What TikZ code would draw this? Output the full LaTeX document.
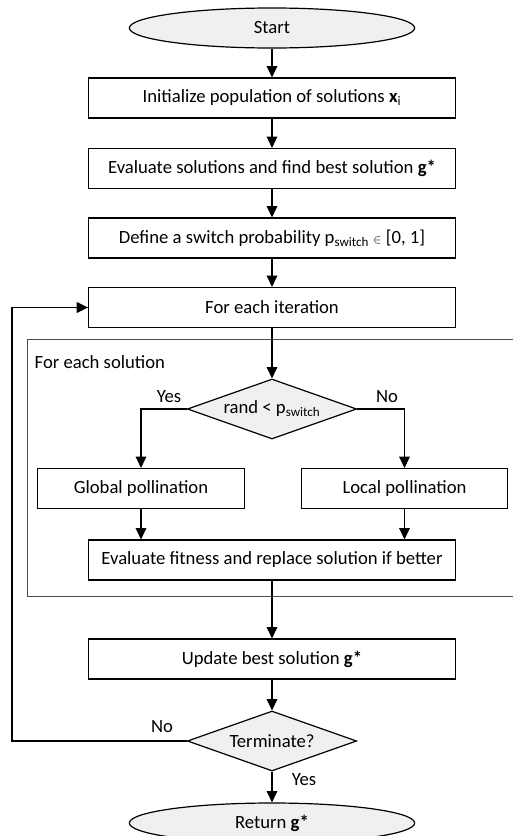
\documentclass[tikz,border=0pt]{standalone}
\usepackage{fontspec}
\setmainfont{Carlito}
\usetikzlibrary{shapes.geometric,arrows.meta}

\begin{document}
\begin{tikzpicture}[x=0.75pt,y=-0.75pt,
	font=\fontsize{14}{17}\selectfont,
	box/.style={draw,line width=0.9pt,minimum height=30pt,inner sep=0pt},
	wide/.style={box,minimum width=275pt},
	half/.style={box,minimum width=155pt},
	term/.style={draw,ellipse,line width=0.9pt,fill=black!6,minimum width=214pt,minimum height=30pt,inner sep=0pt},
	choice/.style={draw,diamond,line width=0.9pt,fill=black!6,minimum width=127pt,minimum height=45pt,shape aspect=2.8,inner sep=0pt},
	arr/.style={line width=0.9pt,-{Triangle[width=8pt,length=8.5pt]}}]
	\clip (0,0) rectangle (513,836);
	\node[term] (start) at (272,28) {Start};
	\node[wide] (init) at (272,98) {Initialize population of solutions \textbf{x}\textsubscript{i}};
	\node[wide] (eval) at (272,168.5) {Evaluate solutions and find best solution \textbf{g*}};
	\node[wide] (define) at (272,238) {Define a switch probability p\textsubscript{switch} {\small$\in$} [0, 1]};
	\node[wide] (iter) at (272,307.5) {For each iteration};
	\draw[black!70,line width=0.6pt] (27,339) rectangle (530,596);
	\node[anchor=west] (each) at (30,362) {For each solution};
	\node[choice] (rand) at (272,409) {rand < p\textsubscript{switch}};
	\node (yes1) at (169,397) {Yes};
	\node (no1) at (387,397) {No};
	\node[half] (global) at (141,488.5) {Global pollination};
	\node[half] (local) at (404.5,488.5) {Local pollination};
	\node[wide] (fitness) at (272,560) {Evaluate fitness and replace solution if better};
	\node[wide] (update) at (272,659) {Update best solution \textbf{g*}};
	\node[choice] (stop) at (272,741) {Terminate?};
	\node (no2) at (162,727) {No};
	\node (yes2) at (304,780) {Yes};
	\node[term] (return) at (272,823) {Return \textbf{g*}};
	\coordinate (loop) at (12,741);
	\draw[arr] (start) -- (init);
	\draw[arr] (init) -- (eval);
	\draw[arr] (eval) -- (define);
	\draw[arr] (define) -- (iter);
	\draw[arr] (iter) -- (rand);
	\draw[arr] (rand.west) -| (global);
	\draw[arr] (rand.east) -| (local);
	\draw[arr] (global) -- (global.south |- fitness.north);
	\draw[arr] (local) -- (local.south |- fitness.north);
	\draw[arr] (fitness) -- (update);
	\draw[arr] (update) -- (stop);
	\draw[arr] (stop) -- (return);
	\draw[arr] (stop.west) -- (loop) |- (iter.west);
\end{tikzpicture}
\end{document}
